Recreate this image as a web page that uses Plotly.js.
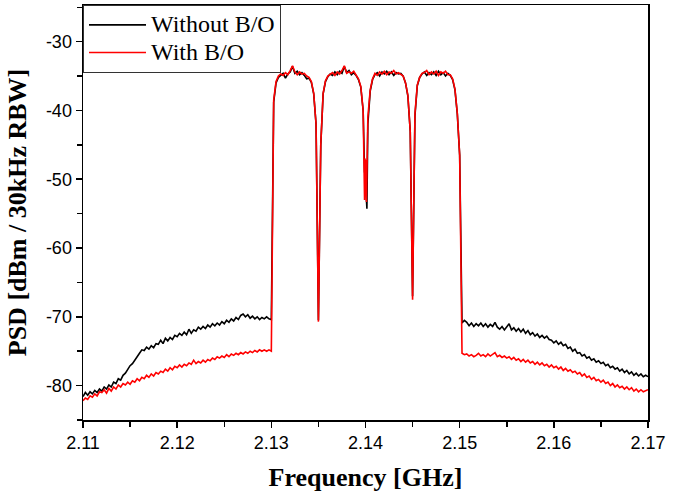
<!DOCTYPE html>
<html>
<head>
<meta charset="utf-8">
<script src="https://cdn.plot.ly/plotly-3.0.1.min.js"></script>
<style>html,body{margin:0;padding:0;background:#fff;}#chart{width:675px;height:495px;}</style>
</head>
<body>
<div id="chart"></div>
<script>
// Frequency grid [GHz], left skirt (2.110 - 2.130)
const freqLeft = [
2.11000,2.11025,2.11050,2.11075, 2.11100,2.11125,2.11150,2.11175,
2.11200,2.11225,2.11250,2.11275, 2.11300,2.11325,2.11350,2.11375,
2.11400,2.11425,2.11450,2.11475, 2.11500,2.11525,2.11550,2.11575,
2.11600,2.11625,2.11650,2.11675, 2.11700,2.11725,2.11750,2.11775,
2.11800,2.11825,2.11850,2.11875, 2.11900,2.11925,2.11950,2.11975,
2.12000,2.12025,2.12050,2.12075, 2.12100,2.12125,2.12150,2.12175,
2.12200,2.12225,2.12250,2.12275, 2.12300,2.12325,2.12350,2.12375,
2.12400,2.12425,2.12450,2.12475, 2.12500,2.12525,2.12550,2.12575,
2.12600,2.12625,2.12650,2.12675, 2.12700,2.12725,2.12750,2.12775,
2.12800,2.12825,2.12850,2.12875, 2.12900,2.12925,2.12950,2.12975,
2.13000];
const blackLeft = [
-81.6,-81.0,-81.4,-80.9, -81.2,-80.7,-81.0,-80.5,
-80.8,-80.2,-80.5,-79.9, -80.2,-79.5,-79.7,-79.0,
-79.2,-78.5,-78.2,-77.6, -77.1,-76.8,-76.2,-75.8,
-75.3,-74.8,-74.9,-74.4, -74.7,-74.2,-74.5,-73.9,
-74.0,-73.4,-73.9,-73.1, -73.5,-73.0,-73.3,-72.7,
-72.9,-72.4,-72.7,-72.2, -72.6,-71.8,-72.4,-71.9,
-72.1,-71.5,-71.8,-71.4, -71.7,-71.2,-71.5,-71.0,
-71.3,-70.9,-71.2,-70.7, -71.0,-70.5,-70.8,-70.3,
-70.6,-70.1,-70.4,-69.8, -69.6,-70.0,-69.7,-70.2,
-69.9,-70.3,-70.0,-70.4, -70.1,-70.3,-70.0,-70.3,
-70.4];
const redLeft = [
-82.2,-81.8,-82.0,-81.5, -81.7,-81.2,-81.5,-80.9,
-81.0,-80.6,-81.1,-80.4, -80.8,-80.2,-80.5,-79.9,
-80.2,-79.7,-79.9,-79.5, -79.8,-79.3,-79.5,-79.0,
-79.3,-78.8,-79.0,-78.5, -78.8,-78.3,-78.6,-78.1,
-78.3,-77.9,-78.1,-77.6, -77.9,-77.4,-77.7,-77.2,
-77.4,-77.0,-77.3,-76.9, -77.1,-76.7,-76.9,-76.3,
-76.8,-76.5,-76.7,-76.3, -76.6,-76.2,-76.4,-76.0,
-76.2,-75.8,-76.0,-75.7, -75.9,-75.5,-75.8,-75.4,
-75.6,-75.3,-75.5,-75.2, -75.4,-75.1,-75.3,-75.0,
-75.2,-74.9,-75.1,-74.8, -75.0,-74.8,-75.0,-74.8,
-75.0];

// Pass band (2.13025 - 2.150), four carriers with notches
const freqBand = [
2.13025,2.13050,2.13075,
2.13100,2.13125,2.13150,2.13175, 2.13200,2.13225,2.13250,2.13275,
2.13300,2.13325,2.13350,2.13375, 2.13400,2.13425,2.13450,2.13475,
2.13500,2.13525,2.13550,2.13575, 2.13600,2.13625,2.13650,2.13675,
2.13700,2.13725,2.13750,2.13775, 2.13800,2.13825,2.13850,2.13875,
2.13900,2.13925,2.13950,2.13975,2.13990,2.13995,
2.14000,2.14005,2.14010,2.14015,2.14025,2.14050,2.14075,
2.14100,2.14125,2.14150,2.14175, 2.14200,2.14225,2.14250,2.14275,
2.14300,2.14325,2.14350,2.14375, 2.14400,2.14425,2.14450,2.14475,
2.14500,2.14525,2.14550,2.14575, 2.14600,2.14625,2.14650,2.14675,
2.14700,2.14725,2.14750,2.14775, 2.14800,2.14825,2.14850,2.14875,
2.14900,2.14925,2.14950,2.14975,
2.15000];
const blackBand = [
-38.8,-36.0,-35.2,
-34.9,-34.6,-35.3,-34.7, -34.4,-33.6,-34.6,-34.3,
-34.8,-34.5,-34.9,-35.4, -35.3,-35.9,-37.6,-42.0,
-70.5,-45.0,-37.6,-35.8, -35.1,-34.7,-34.9,-34.4,
-34.8,-34.3,-34.6,-33.6, -34.5,-34.2,-34.8,-34.5,
-34.9,-35.5,-36.6,-40.0,-49.0,-48.0,
-50.5,-52.0,-53.0,-54.3,-42.0,-37.2,-35.5,
-34.8,-34.5,-35.0,-34.4, -34.7,-34.3,-34.8,-34.4,
-34.9,-34.5,-34.7,-34.6, -35.0,-36.0,-37.9,-43.0,
-67.0,-40.8,-36.4,-35.2, -34.7,-34.4,-34.9,-34.5,
-34.8,-34.4,-34.9,-34.3, -34.8,-34.5,-35.0,-34.6,
-34.9,-35.5,-37.0,-40.5,
-46.5];
const redBand = [
-38.5,-35.8,-35.0,
-34.7,-34.9,-34.5,-34.8, -34.2,-33.5,-34.4,-34.8,
-34.4,-34.7,-34.6,-35.0, -35.2,-35.8,-37.5,-42.0,
-70.7,-45.0,-37.5,-35.7, -35.0,-34.8,-34.5,-34.9,
-34.4,-34.7,-34.2,-33.5, -34.6,-34.4,-34.6,-34.3,
-34.8,-35.4,-36.5,-40.0,-53.0,-47.0,
-52.5,-47.2,-53.3,-50.0,-41.0,-37.0,-35.4,
-34.6,-34.9,-34.4,-34.7, -34.3,-34.8,-34.4,-34.6,
-34.2,-34.7,-34.5,-34.8, -35.0,-36.0,-37.8,-43.0,
-67.5,-40.5,-36.3,-35.2, -34.6,-34.5,-34.2,-34.8,
-34.4,-34.7,-34.3,-34.9, -34.4,-34.6,-34.3,-34.8,
-34.8,-35.4,-36.9,-40.4,
-46.5];

// Right skirt (2.15025 - 2.170)
const freqRight = [
2.15025,2.15050,2.15075,
2.15100,2.15125,2.15150,2.15175, 2.15200,2.15225,2.15250,2.15275,
2.15300,2.15325,2.15350,2.15375, 2.15400,2.15425,2.15450,2.15475,
2.15500,2.15525,2.15550,2.15575, 2.15600,2.15625,2.15650,2.15675,
2.15700,2.15725,2.15750,2.15775, 2.15800,2.15825,2.15850,2.15875,
2.15900,2.15925,2.15950,2.15975, 2.16000,2.16025,2.16050,2.16075,
2.16100,2.16125,2.16150,2.16175, 2.16200,2.16225,2.16250,2.16275,
2.16300,2.16325,2.16350,2.16375, 2.16400,2.16425,2.16450,2.16475,
2.16500,2.16525,2.16550,2.16575, 2.16600,2.16625,2.16650,2.16675,
2.16700,2.16725,2.16750,2.16775, 2.16800,2.16825,2.16850,2.16875,
2.16900,2.16925,2.16950,2.16975,
2.17000];
const blackRight = [
-70.9,-70.5,-70.8,
-71.3,-70.9,-71.4,-71.0, -71.3,-70.9,-71.4,-71.0,
-71.5,-71.1,-71.4,-70.8, -71.5,-71.8,-71.4,-71.9,
-71.5,-71.0,-71.9,-71.6, -72.1,-71.7,-72.2,-71.8,
-72.4,-72.0,-72.6,-72.3, -72.8,-72.5,-73.0,-72.7,
-73.1,-72.8,-73.3,-73.4, -73.8,-73.5,-74.0,-73.7,
-74.2,-74.0,-74.6,-74.4, -75.0,-74.7,-75.3,-75.2,
-75.7,-75.5,-76.0,-75.8, -76.3,-76.1,-76.6,-76.4,
-76.8,-76.6,-77.1,-76.9, -77.4,-77.2,-77.6,-77.4,
-77.9,-77.6,-78.1,-77.8, -78.3,-78.0,-78.5,-78.2,
-78.6,-78.3,-78.7,-78.5,
-78.7];
const redRight = [
-75.3,-75.5,-75.4,
-75.7,-75.5,-75.8,-75.6, -75.3,-75.7,-75.5,-75.8,
-75.4,-75.7,-75.5,-75.2, -75.8,-75.6,-75.9,-75.7,
-76.0,-75.8,-76.2,-75.9, -76.3,-76.1,-76.5,-76.2,
-76.6,-76.3,-76.7,-76.5, -76.9,-76.6,-77.0,-76.7,
-77.1,-76.9,-77.3,-77.0, -77.4,-77.2,-77.6,-77.3,
-77.8,-77.5,-77.9,-77.7, -78.1,-77.9,-78.3,-78.1,
-78.6,-78.3,-78.8,-78.6, -79.1,-78.8,-79.3,-79.1,
-79.5,-79.2,-79.7,-79.5, -80.0,-79.7,-80.2,-79.9,
-80.3,-80.1,-80.5,-80.2, -80.6,-80.3,-80.8,-80.5,
-80.9,-80.6,-80.9,-80.7,
-80.6];

const seriesNames = ['Without B/O', 'With B/O'];
const xTickVals = [2.11, 2.12, 2.13, 2.14, 2.15, 2.16, 2.17];
const xTickText = ['2.11', '2.12', '2.13', '2.14', '2.15', '2.16', '2.17'];
const yTickVals = [-80, -70, -60, -50, -40, -30];
const yTickText = ['-80', '-70', '-60', '-50', '-40', '-30'];

const freq = freqLeft.concat(freqBand, freqRight);
const withoutBO = blackLeft.concat(blackBand, blackRight);
const withBO = redLeft.concat(redBand, redRight);

function legendLabel(s) { return '<span style="font-size:24px">' + s + '</span>'; }

const traces = [
  {x: freq, y: withoutBO, name: legendLabel(seriesNames[0]), type: 'scatter', mode: 'lines',
   line: {color: '#000000', width: 1.6}},
  {x: freq, y: withBO, name: legendLabel(seriesNames[1]), type: 'scatter', mode: 'lines',
   line: {color: '#ff0000', width: 1.6}}
];

const tickFont = {family: '"Liberation Sans", Arial, sans-serif', size: 18, color: '#000'};
const titleFont = {family: '"Liberation Serif", "Times New Roman", serif', size: 26, color: '#000', weight: 'bold'};

const layout = {
  width: 675, height: 495,
  margin: {l: 83, r: 27, t: 5, b: 75, pad: 0},
  paper_bgcolor: '#ffffff', plot_bgcolor: '#ffffff',
  showlegend: true,
  legend: {
    x: 0, y: 1, xanchor: 'left', yanchor: 'top',
    bgcolor: '#ffffff', bordercolor: '#333333', borderwidth: 1,
    font: {family: '"Liberation Serif", "Times New Roman", serif', size: 19, color: '#000'},
    itemwidth: 57, tracegroupgap: 0
  },
  xaxis: {
    range: [2.11, 2.17], tickvals: xTickVals, ticktext: xTickText,
    ticks: 'outside', ticklen: 6, tickwidth: 1.5, tickcolor: '#000',
    minor: {dtick: 0.005, tick0: 2.11, ticks: 'outside', ticklen: 5, tickwidth: 1.5, tickcolor: '#000', showgrid: false},
    showline: true, linecolor: '#000', linewidth: 1.5, mirror: true,
    showgrid: false, zeroline: false, tickfont: tickFont,
    title: {text: 'Frequency [GHz]', font: titleFont, standoff: 15}
  },
  yaxis: {
    range: [-85, -24.67], tickvals: yTickVals, ticktext: yTickText,
    ticks: 'outside', ticklen: 6, tickwidth: 1.5, tickcolor: '#000',
    minor: {dtick: 5, tick0: -85, ticks: 'outside', ticklen: 5, tickwidth: 1.5, tickcolor: '#000', showgrid: false},
    showline: true, linecolor: '#000', linewidth: 1.5, mirror: true,
    showgrid: false, zeroline: false, tickfont: tickFont,
    title: {text: 'PSD [dBm / 30kHz RBW]', font: titleFont, standoff: 12}
  }
};

Plotly.newPlot('chart', traces, layout, {displayModeBar: false, staticPlot: true});
</script>
</body>
</html>
